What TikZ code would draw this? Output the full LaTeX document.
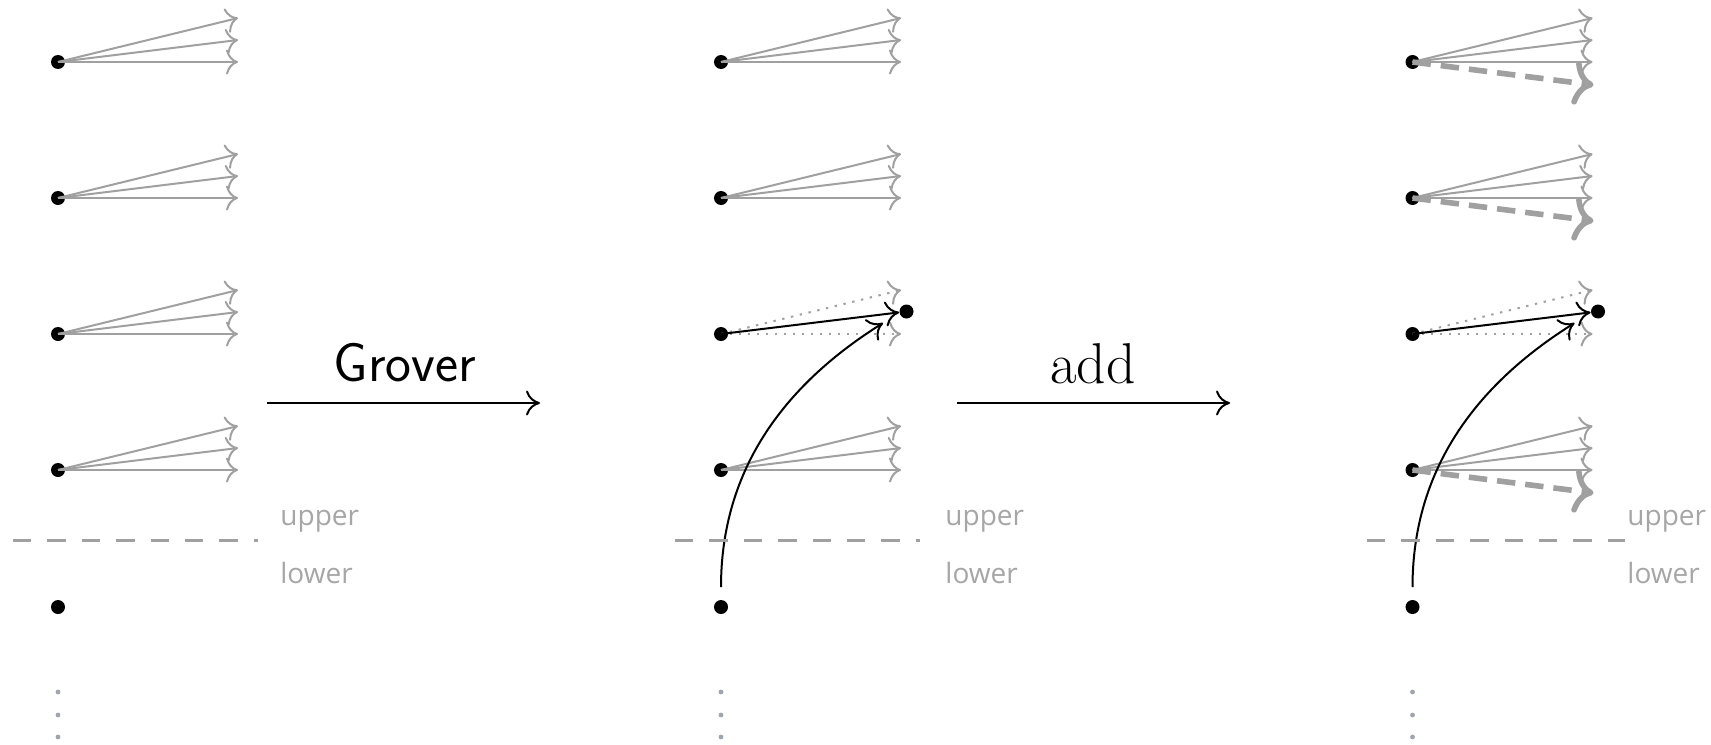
\documentclass[tikz,border=0pt]{standalone}
\usepackage{fontspec}
\newfontfamily\lblfont{Open Sans}
\usetikzlibrary{arrows.meta}
\definecolor{arrgray}{HTML}{A0A0A0}
\definecolor{lblgray}{HTML}{A6A6A6}
\definecolor{dotgray}{HTML}{A0A4AC}
\begin{document}
\begin{tikzpicture}[x=0.5pt,y=-0.5pt,
  dot/.style={circle,fill=black,inner sep=0pt,minimum size=7pt},
  bigdot/.style={circle,fill=black,inner sep=0pt,minimum size=7pt},
  tinydot/.style={circle,fill=dotgray,inner sep=0pt,minimum size=2.4pt},
  grayarr/.style={draw=arrgray,line width=1pt,-{To[length=6pt,width=12.5pt]}},
  dotarr/.style={grayarr,dash pattern=on 1.2pt off 3.3pt},
  blackarr/.style={draw=black,line width=1pt,-{To[length=7pt,width=12.5pt]}},
  thickarr/.style={draw=arrgray,line width=2.8pt,dash pattern=on 9.2pt off 5pt,-{To[length=10pt,width=22pt]}},
  sepline/.style={draw=arrgray,line width=1.5pt,dash pattern=on 9.2pt off 8pt},
  lbl/.style={font=\lblfont\fontsize{14}{16}\selectfont,text=lblgray,inner sep=0pt,anchor=base west}
]
\useasboundingbox (0,0) rectangle (1711,744);

% dots
\foreach \P/\X in {1/58,2/721,3/1412.5}{
  \foreach \R/\Y in {1/62,2/198,3/334,4/470}{
    \node[dot] (d\P\R) at (\X,\Y) {};
  }
  \node[dot] (l\P) at (\X,607) {};
  \foreach \k/\Y in {1/692,2/715,3/737} \node[tinydot] (v\P\k) at (\X,\Y) {};
}

% fans of gray arrows
\foreach \P/\R in {1/1,1/2,1/3,1/4,2/1,2/2,2/4,3/1,3/2,3/4}{
  \coordinate (a\P\R) at ([shift={(180,-44)}]d\P\R.center);
  \coordinate (b\P\R) at ([shift={(180,-22)}]d\P\R.center);
  \coordinate (c\P\R) at ([shift={(180,0)}]d\P\R.center);
  \draw[grayarr] (d\P\R.center) -- (a\P\R);
  \draw[grayarr] (d\P\R.center) -- (b\P\R);
  \draw[grayarr] (d\P\R.center) -- (c\P\R);
}

% marked rows
\foreach \P in {2,3}{
  \coordinate (a\P3) at ([shift={(180,-44)}]d\P3.center);
  \coordinate (c\P3) at ([shift={(180,0)}]d\P3.center);
  \draw[dotarr] (d\P3.center) -- (a\P3);
  \draw[dotarr] (d\P3.center) -- (c\P3);
  \node[bigdot] (m\P) at ([shift={(185.5,-22.5)}]d\P3.center) {};
  \draw[blackarr] (d\P3.center) -- (m\P);
  \coordinate (t\P) at ([shift={(162,-284)}]l\P.center);
  \draw[blackarr,shorten <=10pt] (l\P.center) .. controls ([shift={(0,-128)}]l\P.center) and ([shift={(53.5,-216)}]l\P.center) .. (t\P);
}

% added thick dashed arrows
\foreach \R in {1,2,4}{
  \coordinate (e3\R) at ([shift={(181,23)}]d3\R.center);
  \draw[thickarr] (d3\R.center) -- (e3\R);
}

% separators and labels
\draw[sepline] (13,540) -- (258,540);
\draw[sepline] (675,540) -- (920,540);
\draw[sepline] (1367,540) -- (1625,540);
\node[lbl] (u1) at (280,525) {upper};
\node[lbl] (w1) at (280,583) {lower};
\node[lbl] (u2) at (945,525) {upper};
\node[lbl] (w2) at (945,583) {lower};
\node[lbl] (u3) at (1627,525) {upper};
\node[lbl] (w3) at (1627,583) {lower};

% transition arrows
\coordinate (g1) at (267,403);
\coordinate (g2) at (540,403);
\draw[blackarr] (g1) -- (g2);
\node[anchor=base,inner sep=0pt,font=\sffamily\fontsize{27.5}{32}\selectfont] (gl) at (405,381) {Grover};
\coordinate (h1) at (957,403);
\coordinate (h2) at (1230,403);
\draw[blackarr] (h1) -- (h2);
\node[anchor=base,inner sep=0pt,font=\rmfamily\fontsize{28.8}{34}\selectfont] (al) at (1093,383) {add};
\end{tikzpicture}
\end{document}
